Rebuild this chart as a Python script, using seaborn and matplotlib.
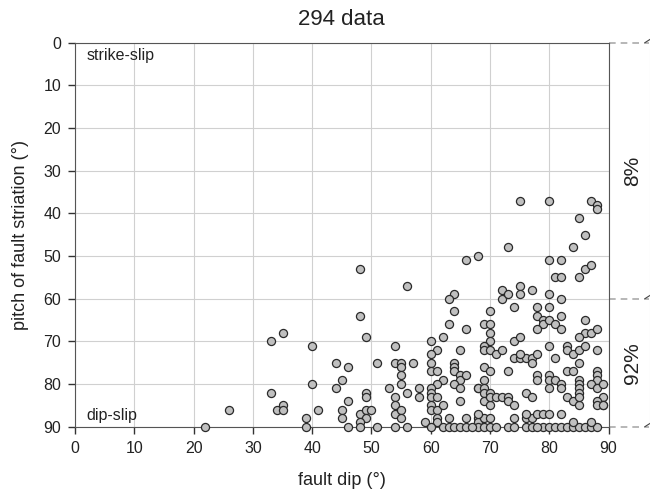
import numpy as np
import pandas as pd
import matplotlib
matplotlib.use("Agg")
import matplotlib.pyplot as plt
import seaborn as sns

# fault dip (deg) and pitch of striation (deg)
dip = [
    22, 26, 33, 33, 35, 34, 35, 35, 39, 39,
    40, 40, 41, 44, 46, 44, 45, 45, 45, 46, 46, 48, 48, 49, 49, 49, 48, 49, 50, 49, 48, 48, 51, 51,
    54, 54, 55, 55, 57, 60, 64, 64, 64, 55, 60, 61, 65, 65, 66, 55, 62, 61, 64, 65, 68, 53, 58, 58,
    60, 60, 60, 61, 54, 56, 65, 54, 54, 55, 55, 60, 60, 61, 62, 61, 61, 63, 66, 59, 68, 68,
    54, 56, 60, 62, 63, 64, 65, 66, 68,
    66, 68, 56, 64, 63, 64, 63, 66, 62, 60, 61, 65, 60,
    75, 73, 72, 72, 73, 75, 75, 77, 74, 78, 78, 79, 79, 78, 70, 69, 70, 70, 70, 69, 69, 70, 71, 72,
    74, 75, 74, 75, 76, 75, 77, 77, 78, 69, 70, 69, 73, 78, 78, 68, 69, 69, 69, 70, 70, 70, 71, 72,
    73, 73, 74, 76, 77,
    67, 69, 70, 71, 73, 74, 76, 77, 79,
    69, 70, 74, 76, 77, 68, 76, 78, 79,
    80, 87, 88, 88, 85, 86, 84, 80, 82, 81, 82, 85, 86, 87, 80, 82, 80, 82, 80, 81, 82, 86, 86, 87,
    85, 88, 80, 83, 83, 84, 85, 86, 88, 81, 85, 83, 84, 88, 88, 88, 80, 80, 80, 81, 82, 82, 83, 84,
    85, 85, 85, 85, 85, 85, 87, 88, 89, 89, 88, 89, 88, 89,
    80, 82,
    78, 80, 81, 82, 83, 84, 85, 86, 87, 88,
    84, 87,
]
pitch = [
    90, 86, 82, 70, 68, 86, 85, 86, 88, 90,
    71, 80, 86, 75, 76, 81, 79, 86, 88, 84, 90, 53, 64, 69, 82, 83, 87, 86, 86, 88, 89, 90, 75, 90,
    71, 75, 75, 76, 75, 75, 75, 76, 77, 78, 77, 77, 78, 79, 78, 80, 79, 80, 80, 81, 81, 81, 81, 83,
    81, 82, 83, 83, 83, 82, 84, 85, 87, 86, 88, 85, 86, 86, 85, 88, 89, 88, 88, 89, 88, 89,
    90, 90, 90, 90, 90, 90, 90, 90, 90,
    51, 50, 57, 59, 60, 63, 66, 67, 69, 70, 72, 72, 73,
    37, 48, 58, 60, 59, 57, 59, 58, 62, 62, 64, 65, 66, 67, 63, 66, 66, 68, 70, 71, 72, 72, 73, 72,
    70, 69, 74, 74, 74, 73, 74, 75, 73, 76, 77, 79, 77, 78, 79, 81, 81, 82, 84, 85, 82, 83, 83, 83,
    83, 84, 85, 82, 83,
    90, 90, 90, 90, 90, 90, 90, 90, 90,
    88, 88, 88, 88, 88, 87, 87, 87, 87,
    37, 37, 38, 39, 41, 45, 48, 51, 51, 55, 55, 55, 53, 52, 59, 60, 62, 64, 65, 66, 67, 65, 68, 68,
    69, 67, 71, 71, 72, 73, 72, 71, 72, 74, 75, 77, 77, 77, 78, 79, 78, 79, 81, 79, 80, 81, 83, 84,
    85, 79, 80, 81, 82, 83, 80, 81, 80, 83, 84, 85, 85, 85,
    87, 87,
    90, 90, 90, 90, 90, 90, 90, 90, 90, 90,
    89, 89,
]
n_total = 294
bands = [0, 60, 90]
band_labels = ["8%", "92%"]

df = pd.DataFrame({"dip": dip, "pitch": pitch})

custom = {"axes.edgecolor": "#555555", "grid.color": "#d0d0d0", "axes.linewidth": 1.2,
          "xtick.bottom": True, "ytick.left": True}
sns.set_style("whitegrid", rc=custom)
plt.rcParams['font.family'] = ['Liberation Sans', 'DejaVu Sans']
plt.rcParams['text.color'] = '#222222'

fig = plt.figure(figsize=(6.5, 4.93), dpi=100)
ax = fig.add_axes([0.1154, 0.1345, 0.8209, 0.7789])

sns.scatterplot(data=df, x="dip", y="pitch", ax=ax, s=34, color="#c0c0c0",
                edgecolor="#2a2a2a", linewidth=0.9, zorder=3, clip_on=False)

ax.set_xlim(0, 90)
ax.set_ylim(90, 0)
ax.set_xticks(range(0, 91, 10))
ax.set_yticks(range(0, 91, 10))
ax.tick_params(axis="both", which="major", bottom=True, left=True, direction="out",
               length=5, width=1, color="#333333",
               labelsize=11.5, labelcolor="#222222", pad=5)
ax.set_xlabel("fault dip (°)", fontsize=13, labelpad=12, color="#222222")
ax.set_ylabel("pitch of fault striation (°)", fontsize=13, labelpad=10, color="#222222")
ax.set_title(f"{n_total} data", fontsize=16, pad=13, color="#222222")
for sp in ax.spines.values():
    sp.set_color("#555555")

ax.text(2, 3, "strike-slip", fontsize=11.5, ha="left", va="center", color="#222222")
ax.text(2, 87.3, "dip-slip", fontsize=11.5, ha="left", va="center", color="#222222")

# band boundaries and percentages on the right
trans = ax.get_yaxis_transform()
for b in bands:
    ax.plot([1.0, 1.075], [b, b], transform=trans, ls=(0, (4, 3)), color="#aaaaaa",
            lw=1.2, clip_on=False)
    ax.plot([1.068, 1.078], [b, b - 0.8], transform=trans, color="#444444",
            lw=0.8, clip_on=False)
ax.plot([1.078, 1.078], [1.5, 90], transform=trans, color="#dddddd", lw=0.8, clip_on=False)
for lo, hi, lab in zip(bands[:-1], bands[1:], band_labels):
    ax.text(1.045, (lo + hi) / 2, lab, transform=trans, rotation=90, fontsize=15,
            ha="center", va="center", color="#222222")

plt.savefig("out.png", dpi=100)
